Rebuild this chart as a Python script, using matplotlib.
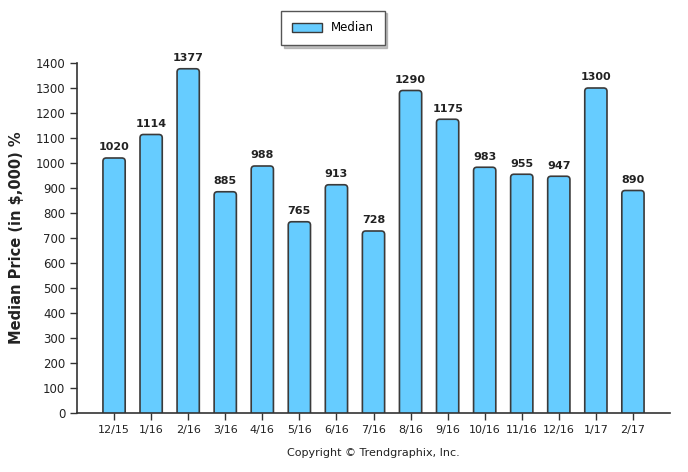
import numpy as np
import matplotlib.pyplot as plt
from matplotlib.patches import FancyBboxPatch, Patch

# datos
months = ["12/15", "1/16", "2/16", "3/16", "4/16", "5/16", "6/16", "7/16",
          "8/16", "9/16", "10/16", "11/16", "12/16", "1/17", "2/17"]
median = [1020, 1114, 1377, 885, 988, 765, 913, 728,
          1290, 1175, 983, 955, 947, 1300, 890]
y_ticks = list(range(0, 1401, 100))

plt.rcParams['font.family'] = ['DejaVu Sans']

fig = plt.figure(figsize=(6.88, 4.72), dpi=100)
ax = fig.add_axes([77 / 688, 59 / 472, 593 / 688, 350 / 472])

bar_color = "#66CCFF"
edge_color = "#3a3a3a"
width = 0.6
x = np.arange(len(months))

# barras con esquinas redondeadas (se recortan por debajo de 0)
px_x = 593 / 16          # pixeles por unidad en x
px_y = 350 / 1400        # pixeles por unidad en y
aspect = (1 / px_y) / (1 / px_x)
for xi, v in zip(x, median):
    p = FancyBboxPatch((xi - width / 2, -40), width, v + 40,
                       boxstyle="round,pad=0,rounding_size=0.09",
                       mutation_aspect=aspect,
                       facecolor=bar_color, edgecolor=edge_color, linewidth=1.2)
    ax.add_patch(p)
    ax.annotate(str(v), (xi, v), xytext=(0, 4), textcoords="offset points",
                ha="center", va="bottom", fontsize=8, fontweight="bold",
                color="#222222")

ax.set_xlim(-1, len(months))
ax.set_ylim(0, 1400)
ax.set_xticks(x)
ax.set_xticklabels(months, fontsize=8, color="#222222")
ax.set_yticks(y_ticks)
ax.set_yticklabels([str(t) for t in y_ticks], fontsize=8.5, color="#222222")
ax.tick_params(axis="both", direction="out", length=5, color="#333333", width=1)

for s in ["top", "right"]:
    ax.spines[s].set_visible(False)
for s in ["left", "bottom"]:
    ax.spines[s].set_color("#333333")
    ax.spines[s].set_linewidth(1.2)

ax.set_ylabel("Median Price (in $,000) %", fontsize=10.5, fontweight="bold",
              color="#222222", labelpad=8)

# leyenda
handle = Patch(facecolor=bar_color, edgecolor=edge_color, label="Median")
fig.legend(handles=[handle], loc="upper center",
           bbox_to_anchor=(333 / 688, 1 - 7 / 472), fontsize=8.5,
           fancybox=False, shadow={"color": "#999999", "alpha": 0.6},
           edgecolor="#555555", framealpha=1,
           handlelength=2.5, handleheight=0.8, borderpad=0.9,
           borderaxespad=0.3)

fig.text(373 / 688, 1 - 453 / 472, "Copyright © Trendgraphix, Inc.",
         ha="center", va="center", fontsize=8, color="#222222")

fig.savefig("out.png", dpi=100)
